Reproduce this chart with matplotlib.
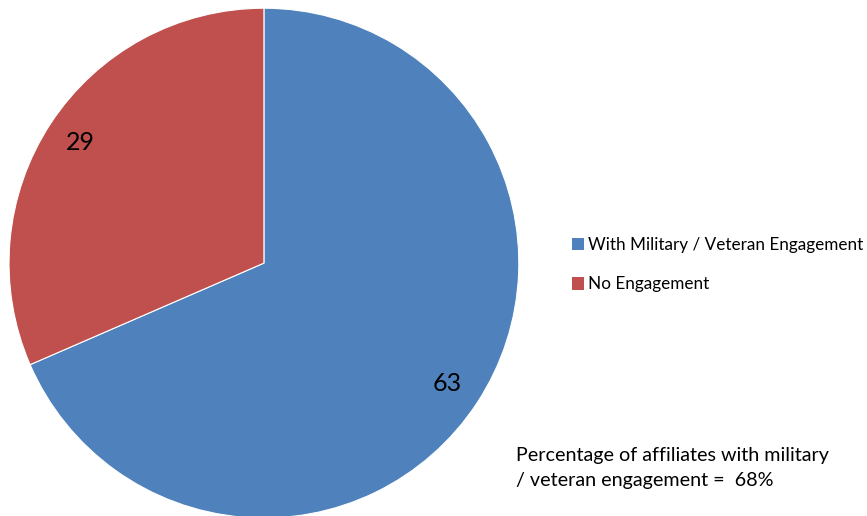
import matplotlib.pyplot as plt
from matplotlib.patches import Patch

# Data
labels = ["With Military / Veteran Engagement", "No Engagement"]
values = [63, 29]
colors = ["#4F81BD", "#C0504D"]
note = "Percentage of affiliates with military\n/ veteran engagement =  68%"

plt.rcParams["font.family"] = ["Lato", "DejaVu Sans"]

fig = plt.figure(figsize=(8.67, 5.16), dpi=100)
ax = fig.add_axes([0.0104, -0.0039, 0.588, 0.988])

total = sum(values)
wedges, texts, autotexts = ax.pie(
    values, colors=colors, startangle=90, counterclock=False,
    autopct=lambda p: f"{p * total / 100:.0f}", pctdistance=0.86,
    wedgeprops=dict(edgecolor="white", linewidth=0.8),
    textprops=dict(fontsize=18, color="black"),
)
ax.set_xlim(-1, 1)
ax.set_ylim(-1, 1)
ax.set_aspect("equal")

handles = [Patch(facecolor=c, edgecolor="none") for c in colors]
fig.legend(handles, labels, loc="center left", bbox_to_anchor=(0.6495, 0.487),
           frameon=False, fontsize=12.3, handlelength=0.75, handleheight=0.75,
           handletextpad=0.2, labelspacing=1.35, borderpad=0)

fig.text(516 / 867, 1 - 447 / 516, note, fontsize=14.2, va="top", ha="left",
         linespacing=1.6)

fig.savefig("out.png", dpi=100)
